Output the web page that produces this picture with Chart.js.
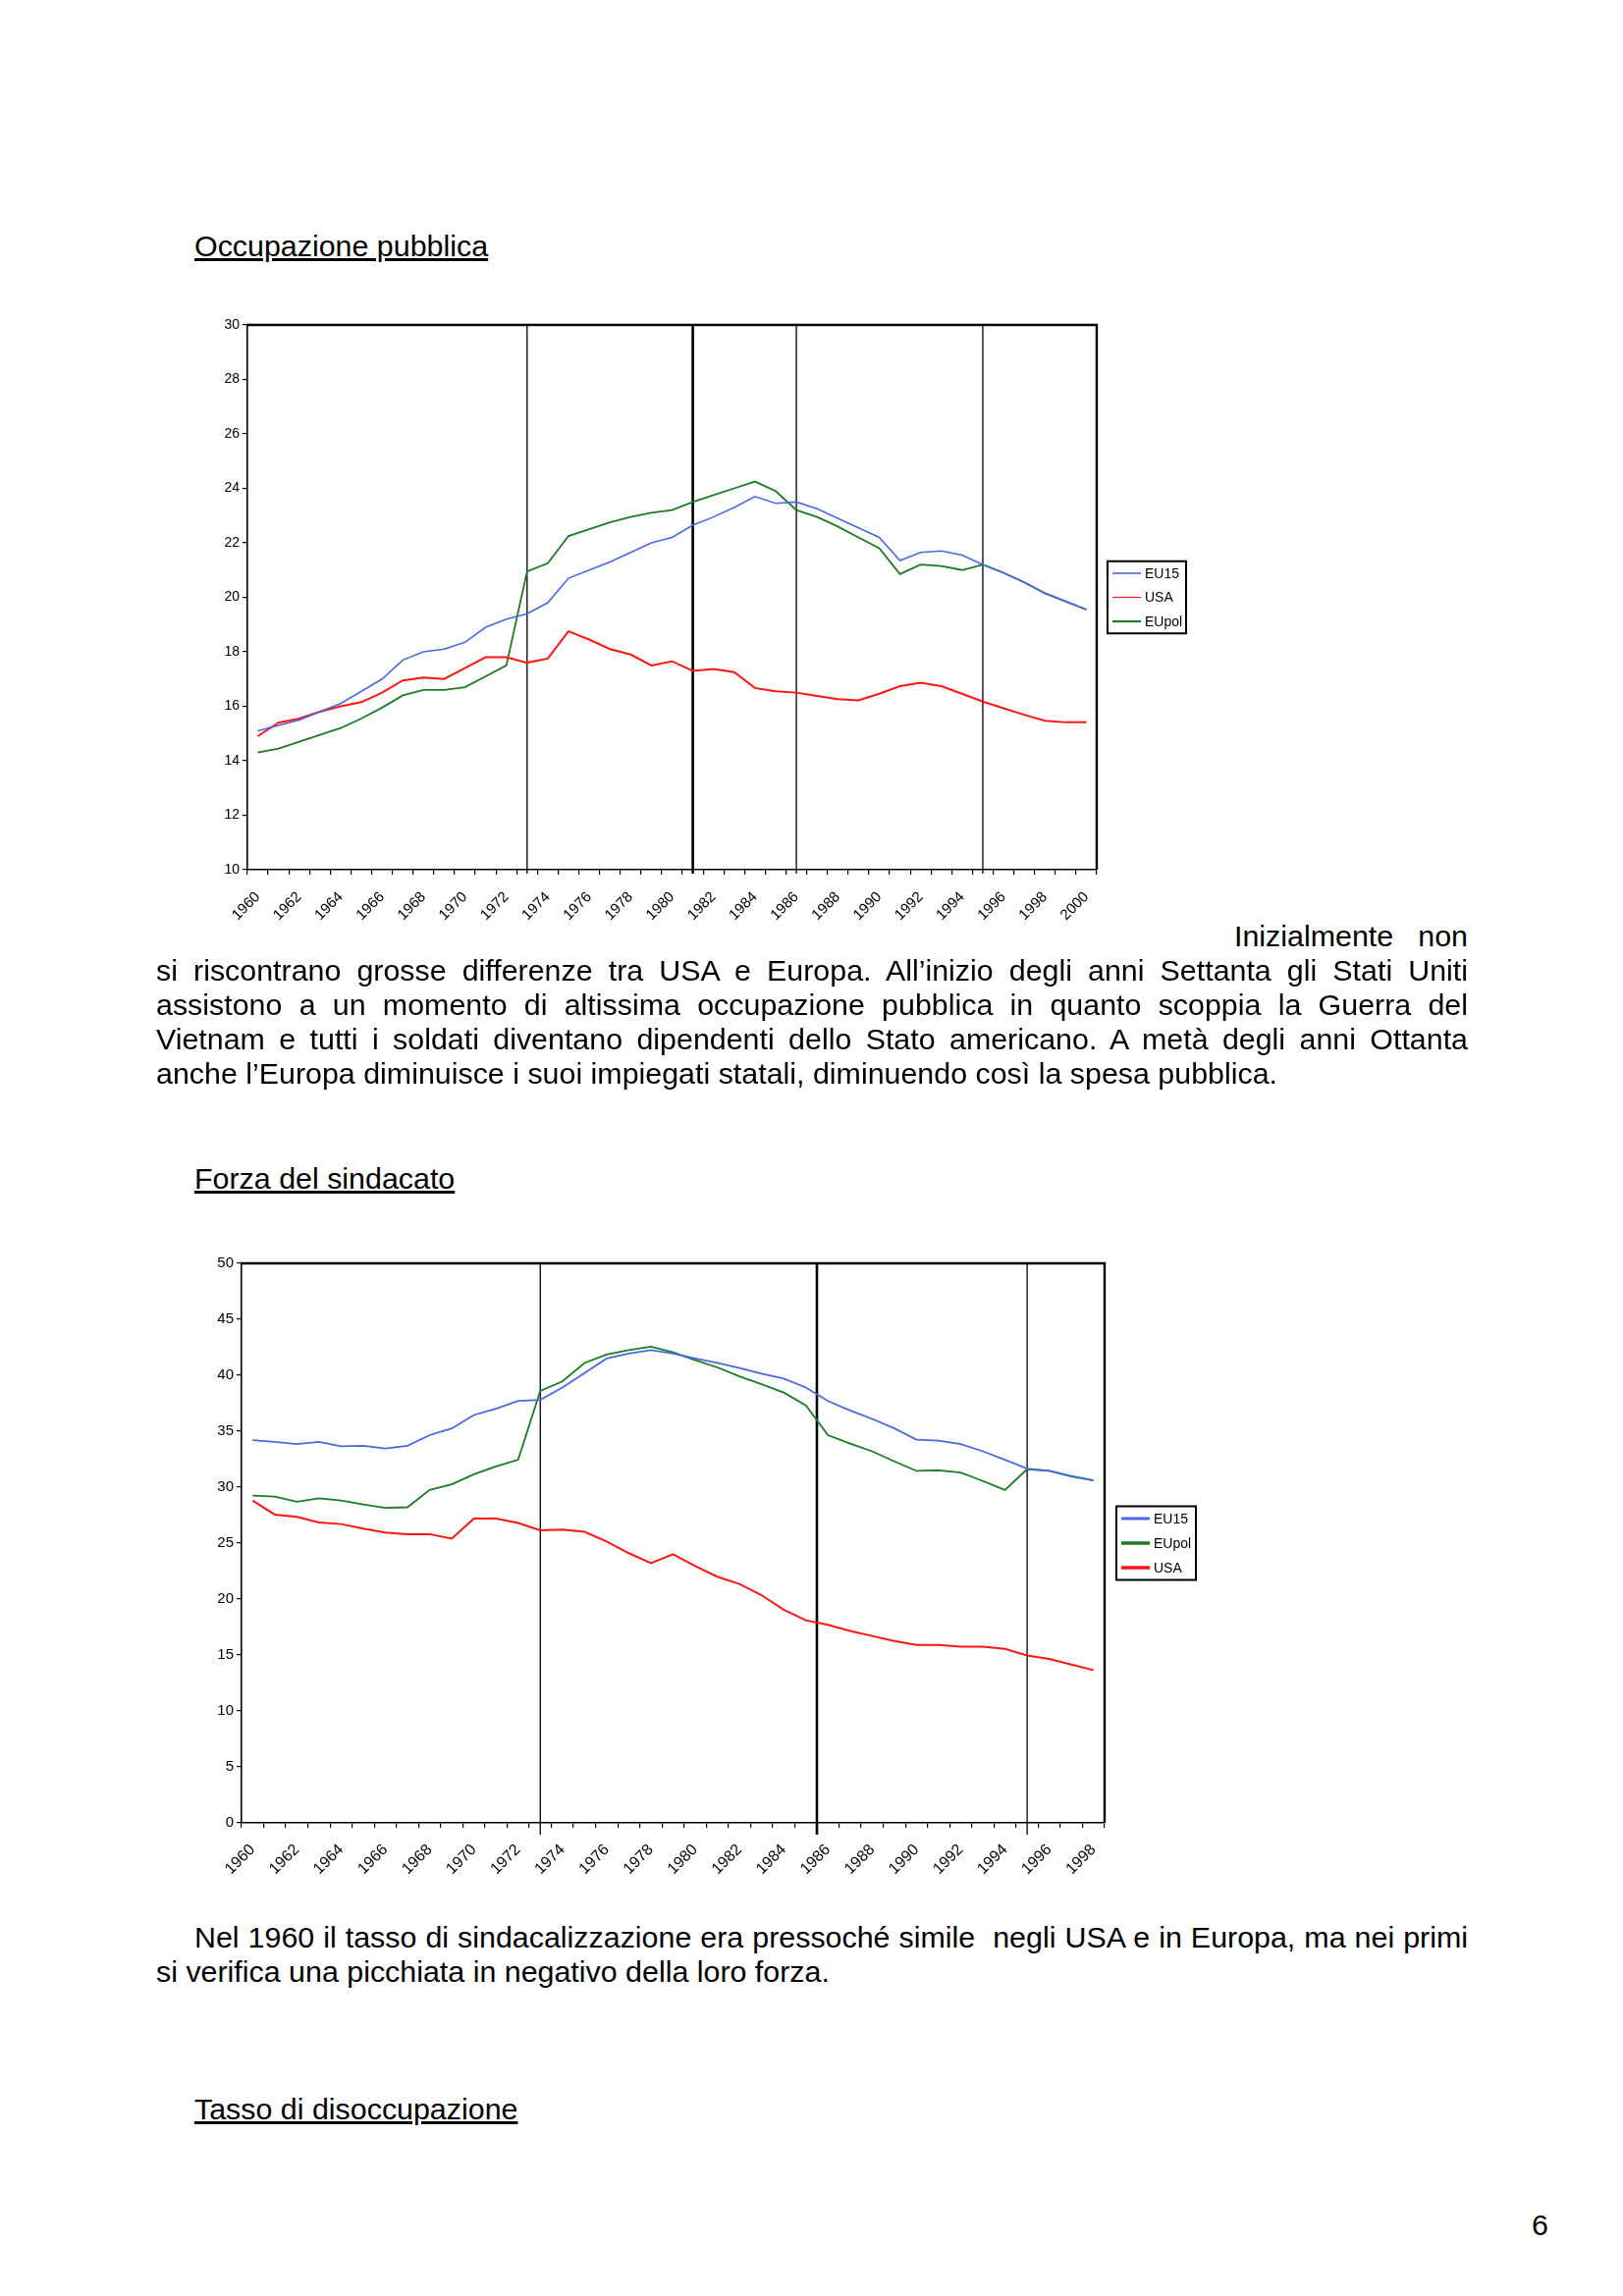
<!DOCTYPE html>
<html lang="it">
<head>
<meta charset="utf-8">
<title>Occupazione pubblica – Forza del sindacato</title>
<script src="https://cdn.jsdelivr.net/npm/chart.js@4.4.1/dist/chart.umd.min.js"></script>
<style>
  html, body { margin: 0; padding: 0; background: #fff; }
  body { width: 1653px; height: 2339px; position: relative; overflow: hidden;
         font-family: "Liberation Sans", Arial, sans-serif; color: #000; }
  .t { position: absolute; font-size: 30.4px; line-height: 35px; white-space: nowrap; z-index: 2; }
  .u { text-decoration: underline; }
  .j { text-align: justify; text-align-last: justify; }
  canvas { position: absolute; z-index: 1; }
</style>
</head>
<body>

<div class="t u" style="left:198px; top:233px;">Occupazione pubblica</div>
<canvas id="occ" width="1060" height="680" style="left:180px; top:300px;"></canvas>

<div class="t j" style="left:1257px; top:936px; width:238px;">Inizialmente non</div>
<div class="t j" style="left:159px; top:971px; width:1336px;">si riscontrano grosse differenze tra USA e Europa. All’inizio degli anni Settanta gli Stati Uniti</div>
<div class="t j" style="left:159px; top:1006px; width:1336px;">assistono a un momento di altissima occupazione pubblica in quanto scoppia la Guerra del</div>
<div class="t j" style="left:159px; top:1041px; width:1336px;">Vietnam e tutti i soldati diventano dipendenti dello Stato americano. A metà degli anni Ottanta</div>
<div class="t" style="left:159px; top:1076px;">anche l’Europa diminuisce i suoi impiegati statali, diminuendo così la spesa pubblica.</div>

<div class="t u" style="left:198px; top:1183px;">Forza del sindacato</div>
<canvas id="sind" width="1080" height="700" style="left:170px; top:1250px;"></canvas>

<div class="t j" style="left:198px; top:1956px; width:1297px;">Nel 1960 il tasso di sindacalizzazione era pressoché simile&nbsp; negli USA e in Europa, ma nei primi</div>
<div class="t" style="left:159px; top:1991px;">si verifica una picchiata in negativo della loro forza.</div>

<div class="t u" style="left:198px; top:2131px;">Tasso di disoccupazione</div>
<div class="t" style="left:1560px; top:2249px;">6</div>

<script>
// --- Occupazione pubblica (1960-2000) ---
const years1 = ['1960','1961','1962','1963','1964','1965','1966','1967','1968','1969',
  '1970','1971','1972','1973','1974','1975','1976','1977','1978','1979',
  '1980','1981','1982','1983','1984','1985','1986','1987','1988','1989',
  '1990','1991','1992','1993','1994','1995','1996','1997','1998','1999','2000'];
const eu15Occ = [15.1, 15.3, 15.5, 15.8, 16.1, 16.55, 17.0, 17.7, 18.0, 18.1,
  18.35, 18.9, 19.2, 19.4, 19.8, 20.7, 21.0, 21.3, 21.65, 22.0,
  22.2, 22.65, 22.95, 23.3, 23.7, 23.45, 23.5, 23.25, 22.9, 22.55,
  22.2, 21.35, 21.65, 21.7, 21.55, 21.2, 20.9, 20.55, 20.15, 19.85, 19.55];
const usaOcc = [14.9, 15.4, 15.55, 15.8, 16.0, 16.15, 16.5, 16.95, 17.05, 17.0,
  17.4, 17.8, 17.8, 17.6, 17.75, 18.75, 18.45, 18.1, 17.9, 17.5,
  17.65, 17.3, 17.37, 17.25, 16.67, 16.55, 16.5, 16.38, 16.26, 16.22,
  16.46, 16.74, 16.86, 16.74, 16.46, 16.17, 15.93, 15.69, 15.47, 15.41, 15.41];
const eupolOcc = [14.3, 14.45, 14.7, 14.95, 15.2, 15.55, 15.95, 16.4, 16.6, 16.6,
  16.7, 17.1, 17.5, 20.95, 21.25, 22.25, 22.5, 22.75, 22.95, 23.1,
  23.2, 23.5, 23.75, 24.0, 24.25, 23.9, 23.2, 22.95, 22.6, 22.2,
  21.8, 20.85, 21.2, 21.15, 21.0, 21.2, 20.9, 20.55, 20.15, 19.85, 19.55];
const markYears1 = [1973, 1981, 1986, 1995];
const boldYears1 = [1981];

// --- Forza del sindacato (1960-1998) ---
const years2 = ['1960','1961','1962','1963','1964','1965','1966','1967','1968','1969',
  '1970','1971','1972','1973','1974','1975','1976','1977','1978','1979',
  '1980','1981','1982','1983','1984','1985','1986','1987','1988','1989',
  '1990','1991','1992','1993','1994','1995','1996','1997','1998'];
const eu15Sind = [34.2, 34.05, 33.85, 34.05, 33.65, 33.7, 33.45, 33.7, 34.65, 35.25,
  36.45, 37.0, 37.7, 37.8, 38.9, 40.2, 41.5, 41.95, 42.25, 41.95,
  41.5, 41.1, 40.65, 40.15, 39.7, 38.9, 37.7, 36.85, 36.1, 35.25,
  34.25, 34.15, 33.85, 33.2, 32.45, 31.65, 31.45, 31.0, 30.6];
const eupolSind = [29.25, 29.15, 28.7, 29.0, 28.8, 28.45, 28.15, 28.2, 29.75, 30.25,
  31.15, 31.85, 32.45, 38.6, 39.45, 41.1, 41.85, 42.25, 42.55, 42.05,
  41.35, 40.7, 39.9, 39.2, 38.45, 37.3, 34.65, 33.9, 33.2, 32.3,
  31.45, 31.5, 31.3, 30.55, 29.75, 31.6, 31.45, 30.95, 30.6];
const usaSind = [28.8, 27.55, 27.35, 26.85, 26.7, 26.3, 25.95, 25.8, 25.8, 25.4,
  27.2, 27.2, 26.8, 26.15, 26.2, 26.0, 25.15, 24.1, 23.2, 24.0,
  22.95, 22.0, 21.35, 20.35, 19.05, 18.1, 17.7, 17.15, 16.7, 16.25,
  15.9, 15.9, 15.75, 15.75, 15.55, 14.95, 14.65, 14.15, 13.65];
const markYears2 = [1973, 1985.5, 1995];
const boldYears2 = [1985.5];

const BLUE = '#4a68e0', RED = '#ff1414', GREEN = '#1f7a28';
const FONT = '"Liberation Sans", Arial, sans-serif';

// vertical marker lines behind the series, top/right frame over them
const framePlugin = {
  id: 'frame',
  beforeDatasetsDraw(chart, args, o) {
    const { ctx, chartArea: a } = chart;
    const x = chart.scales.x;
    ctx.save();
    ctx.strokeStyle = '#000';
    o.years.forEach(y => {
      const px = x.getPixelForValue(y - o.first);
      ctx.lineWidth = o.bold.includes(y) ? 2.6 : 1.3;
      ctx.beginPath(); ctx.moveTo(px, a.top); ctx.lineTo(px, a.bottom + o.drop); ctx.stroke();
    });
    ctx.restore();
  },
  afterDatasetsDraw(chart, args, o) {
    const { ctx, chartArea: a } = chart;
    ctx.save();
    ctx.strokeStyle = '#000';
    ctx.lineWidth = o.edge;
    ctx.beginPath();
    ctx.moveTo(a.left - 1, a.top); ctx.lineTo(a.right, a.top); ctx.lineTo(a.right, a.bottom);
    ctx.stroke();
    ctx.restore();
  }
};

// boxed legend to the right of the plot, centred on it
const boxLegend = {
  id: 'boxLegend',
  afterDraw(chart, args, o) {
    const { ctx, chartArea: a } = chart;
    const sets = chart.data.datasets;
    const h = o.rowH * sets.length;
    const left = a.right + o.gap, top = (a.top + a.bottom) / 2 - h / 2;
    ctx.save();
    ctx.strokeStyle = '#000'; ctx.lineWidth = 2;
    ctx.strokeRect(left, top, o.width, h);
    ctx.font = o.font; ctx.textBaseline = 'middle'; ctx.fillStyle = '#000';
    sets.forEach((d, i) => {
      const y = top + o.rowH * (i + 0.5);
      ctx.strokeStyle = d.borderColor; ctx.lineWidth = o.lineW[i];
      ctx.beginPath(); ctx.moveTo(left + 5, y); ctx.lineTo(left + 34, y); ctx.stroke();
      ctx.fillText(d.label, left + 38, y + 1);
    });
    ctx.restore();
  }
};

function lineChart(id, labels, datasets, y, g) {
  return new Chart(document.getElementById(id), {
    type: 'line',
    data: { labels, datasets: datasets.map(d => ({ ...d, pointRadius: 0, tension: 0, fill: false })) },
    options: {
      responsive: false, animation: false, devicePixelRatio: 1,
      layout: { padding: { left: 0, top: g.top, right: g.right, bottom: 0 } },
      scales: {
        x: {
          offset: true,
          grid: { offset: true, drawOnChartArea: false, tickLength: 5, color: '#000', lineWidth: 1.2 },
          border: { color: '#000', width: 1.6 },
          ticks: { autoSkip: false, minRotation: 45, maxRotation: 45, padding: g.xPad, color: '#000',
                   font: { family: FONT, size: g.xFont },
                   callback: (v, i) => (i % 2 === 0 ? labels[i] : '') },
          afterFit: s => { s.height = g.xH; }
        },
        y: {
          min: y.min, max: y.max,
          grid: { drawOnChartArea: false, tickLength: 5, color: '#000', lineWidth: 1.2 },
          border: { color: '#000', width: 1.6 },
          ticks: { stepSize: y.step, padding: 3, color: '#000', font: { family: FONT, size: g.yFont } },
          afterFit: s => { s.width = g.yW; }
        }
      },
      plugins: {
        legend: { display: false }, tooltip: { enabled: false },
        frame: g.frame,
        boxLegend: g.legend
      }
    },
    plugins: [framePlugin, boxLegend]
  });
}

lineChart('occ', years1, [
  { label: 'EU15', data: eu15Occ, borderColor: BLUE, borderWidth: 1.6 },
  { label: 'USA', data: usaOcc, borderColor: RED, borderWidth: 2 },
  { label: 'EUpol', data: eupolOcc, borderColor: GREEN, borderWidth: 1.8 }
], { min: 10, max: 30, step: 2 }, {
  top: 31, right: 123, yW: 72, xH: 94, xPad: 14, xFont: 15, yFont: 14,
  frame: { years: markYears1, bold: boldYears1, first: 1960, drop: 4, edge: 2.4 },
  legend: { gap: 11, width: 80, rowH: 24.5, font: '14px ' + FONT, lineW: [1.6, 1.2, 2.2] }
});

lineChart('sind', years2, [
  { label: 'EU15', data: eu15Sind, borderColor: BLUE, borderWidth: 1.8 },
  { label: 'EUpol', data: eupolSind, borderColor: GREEN, borderWidth: 1.8 },
  { label: 'USA', data: usaSind, borderColor: RED, borderWidth: 2 }
], { min: 0, max: 50, step: 5 }, {
  top: 37, right: 125, yW: 76, xH: 93, xPad: 13, xFont: 16, yFont: 15,
  frame: { years: markYears2, bold: boldYears2, first: 1960, drop: 12, edge: 2.4 },
  legend: { gap: 12, width: 81, rowH: 25, font: '14px ' + FONT, lineW: [3, 3.5, 3.5] }
});
</script>
</body>
</html>
